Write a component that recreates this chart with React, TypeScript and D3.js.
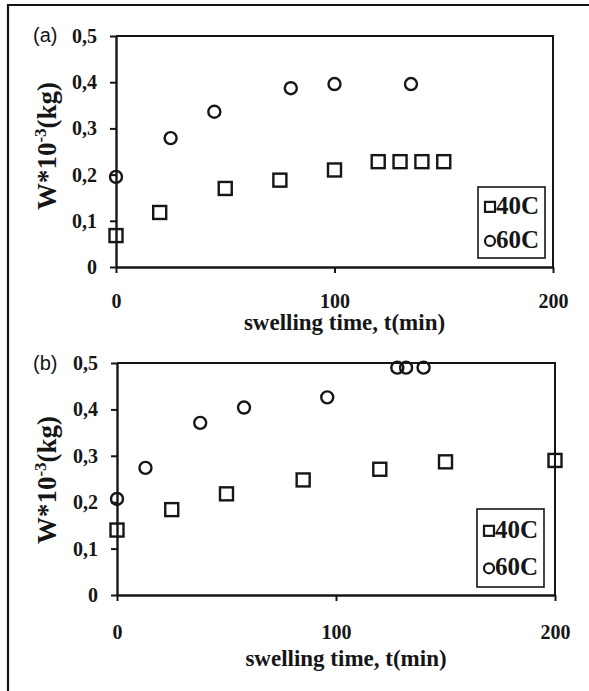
import * as d3 from "d3";
import { useEffect, useRef } from "react";

// swelling time (min) and W*10^-3 (kg)
const timeA40 = [0, 20, 50, 75, 100, 120, 130, 140, 150];
const wA40 = [0.068, 0.118, 0.17, 0.188, 0.21, 0.228, 0.228, 0.228, 0.228];
const timeA60 = [0, 25, 45, 80, 100, 135];
const wA60 = [0.195, 0.279, 0.336, 0.387, 0.396, 0.396];

const timeB40 = [0, 25, 50, 85, 120, 150, 200];
const wB40 = [0.14, 0.184, 0.218, 0.248, 0.271, 0.287, 0.29];
const timeB60 = [0, 13, 38, 58, 96, 128, 132, 140];
const wB60 = [0.207, 0.274, 0.371, 0.404, 0.426, 0.49, 0.49, 0.49];

const xTicks = [0, 100, 200];
const yTicks = [0, 0.1, 0.2, 0.3, 0.4, 0.5];
const seriesNames = ["40C", "60C"];

const SERIF = "'Liberation Serif', 'Times New Roman', serif";
const SANS = "'Liberation Sans', Arial, sans-serif";
const INK = "#161616";

export default function App() {
  const ref = useRef<SVGSVGElement>(null);

  useEffect(() => {
    const width = 589;
    const height = 691;

    const svg = d3.select(ref.current)
      .attr("width", width)
      .attr("height", height);
    svg.selectAll("*").remove();

    // frame of the figure (left and top only)
    svg.append("path")
      .attr("d", "M8,691V5H589")
      .attr("fill", "none")
      .attr("stroke", INK)
      .attr("stroke-width", 2.2);

    const panels = [
      {
        tag: "(a)", left: 116, right: 553, top: 36, bottom: 267,
        labelGap: 21, titleGap: 63, tagY: 42, titleMid: 146,
        sq: { t: timeA40, w: wA40 }, ci: { t: timeA60, w: wA60 },
        legend: { x: 478, y: 187, w: 67, h: 71 },
      },
      {
        tag: "(b)", left: 117, right: 555, top: 363, bottom: 595,
        labelGap: 24, titleGap: 71, tagY: 370, titleMid: 480,
        sq: { t: timeB40, w: wB40 }, ci: { t: timeB60, w: wB60 },
        legend: { x: 477, y: 509, w: 67, h: 78 },
      },
    ];

    const fmt = (d: number) => (d === 0 ? "0" : d.toFixed(1).replace(".", ","));

    panels.forEach(p => {
      const x = d3.scaleLinear().domain([0, 200]).range([p.left, p.right]);
      const y = d3.scaleLinear().domain([0, 0.5]).range([p.bottom, p.top]);
      const g = svg.append("g");

      // top + right border of the plot box
      g.append("path")
        .attr("d", `M${p.left},${p.top}H${p.right}V${p.bottom}`)
        .attr("fill", "none")
        .attr("stroke", INK)
        .attr("stroke-width", 2);

      const yAxis = g.append("g")
        .attr("transform", `translate(${p.left},0)`)
        .call(d3.axisLeft(y).tickValues(yTicks).tickFormat(d => fmt(+d))
          .tickSize(6).tickSizeOuter(0).tickPadding(13));

      const xAxis = g.append("g")
        .attr("transform", `translate(0,${p.bottom})`)
        .call(d3.axisBottom(x).tickValues(xTicks).tickFormat(d => String(d))
          .tickSize(6).tickSizeOuter(0).tickPadding(p.labelGap));

      [yAxis, xAxis].forEach(a => {
        a.attr("font-family", SERIF).attr("font-size", 20).attr("font-weight", "bold");
        a.select(".domain").attr("stroke", INK).attr("stroke-width", 2.4);
        a.selectAll(".tick line").attr("stroke", INK).attr("stroke-width", 2);
        a.selectAll(".tick text").attr("fill", INK);
      });

      // axis titles
      g.append("text")
        .attr("x", (p.left + p.right) / 2 + 10)
        .attr("y", p.bottom + p.titleGap)
        .attr("text-anchor", "middle")
        .attr("font-family", SERIF)
        .attr("font-weight", "bold")
        .attr("font-size", 23)
        .attr("fill", INK)
        .text("swelling time, t(min)");

      const yt = g.append("text")
        .attr("transform", `translate(56,${p.titleMid}) rotate(-90)`)
        .attr("text-anchor", "middle")
        .attr("font-family", SERIF)
        .attr("font-weight", "bold")
        .attr("font-size", 27)
        .attr("fill", INK);
      yt.append("tspan").text("W*10");
      yt.append("tspan").attr("font-size", 17).attr("dy", -10).text("-3");
      yt.append("tspan").attr("dy", 10).text("(kg)");

      g.append("text")
        .attr("x", 33)
        .attr("y", p.tagY)
        .attr("font-family", SANS)
        .attr("font-size", 20)
        .attr("fill", INK)
        .text(p.tag);

      // markers
      const sqSide = 13;
      g.selectAll(".sq")
        .data(d3.zip(p.sq.t, p.sq.w))
        .enter()
        .append("rect")
        .attr("x", d => x(d[0]) - sqSide / 2)
        .attr("y", d => y(d[1]) - sqSide / 2)
        .attr("width", sqSide)
        .attr("height", sqSide)
        .attr("fill", "none")
        .attr("stroke", INK)
        .attr("stroke-width", 2.4);

      g.selectAll(".ci")
        .data(d3.zip(p.ci.t, p.ci.w))
        .enter()
        .append("circle")
        .attr("cx", d => x(d[0]))
        .attr("cy", d => y(d[1]))
        .attr("r", 6)
        .attr("fill", "none")
        .attr("stroke", INK)
        .attr("stroke-width", 2.4);

      // legend
      const L = p.legend;
      const lg = g.append("g").attr("transform", `translate(${L.x},${L.y})`);
      lg.append("rect")
        .attr("width", L.w)
        .attr("height", L.h)
        .attr("fill", "#fff")
        .attr("stroke", INK)
        .attr("stroke-width", 1.6);
      const rowY = [L.h * 0.28, L.h * 0.76];
      seriesNames.forEach((name, i) => {
        if (i === 0) {
          lg.append("rect")
            .attr("x", 7).attr("y", rowY[i] - 5)
            .attr("width", 10).attr("height", 10)
            .attr("fill", "none").attr("stroke", INK).attr("stroke-width", 2.2);
        } else {
          lg.append("circle")
            .attr("cx", 12).attr("cy", rowY[i])
            .attr("r", 5)
            .attr("fill", "none").attr("stroke", INK).attr("stroke-width", 2.2);
        }
        lg.append("text")
          .attr("x", 18)
          .attr("y", rowY[i] + 7)
          .attr("font-family", SERIF)
          .attr("font-weight", "bold")
          .attr("font-size", 25)
          .attr("fill", INK)
          .text(name);
      });
    });
  }, []);

  return (
    <div style={{ position: "absolute", left: 0, top: 0, background: "#fff" }}>
      <svg ref={ref} style={{ display: "block" }} />
    </div>
  );
}
